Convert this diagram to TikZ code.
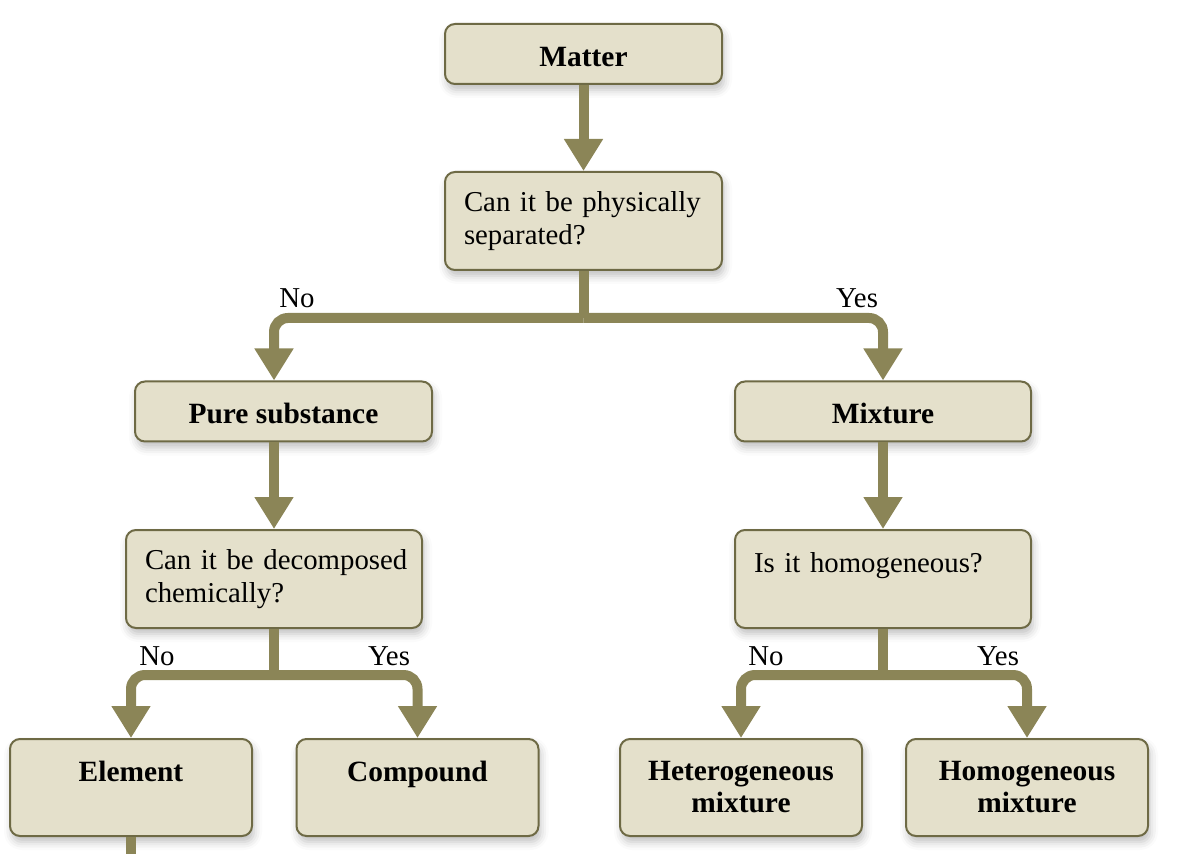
\documentclass[tikz,border=0pt]{standalone}
\usepackage{fontspec}
\setmainfont{Liberation Serif}
\usetikzlibrary{arrows.meta,shadows.blur}

\definecolor{boxfill}{HTML}{E4E0CB}
\definecolor{boxline}{HTML}{6E6A45}
\definecolor{flowcol}{HTML}{8B8557}

\tikzset{
  box/.style={draw=boxline, line width=1pt, fill=boxfill, rounded corners=5pt,
    inner xsep=9.5pt, inner ysep=0pt,
    blur shadow={shadow xshift=1pt, shadow yshift=-3pt, shadow blur radius=4pt, shadow opacity=25}},
  boldtext/.style={align=center, font=\fontsize{14.7}{16}\selectfont\bfseries},
  titlebox/.style={box, boldtext, minimum height=30pt, text height=12.5pt, text depth=0pt},
  askbox/.style={box, align=left, minimum height=49pt, font=\fontsize{14.4}{16.5}\selectfont},
  leafbox/.style={box, boldtext, minimum width=121pt, minimum height=48.5pt},
  answer/.style={font=\fontsize{14.4}{16.5}\selectfont, inner sep=0pt},
  stem/.style={draw=flowcol, line width=5pt},
  flow/.style={stem, rounded corners=7pt, -{Triangle[width=18.5pt,length=16pt]}}
}

\begin{document}
\begin{tikzpicture}[x=0.5pt, y=-0.5pt]
  \useasboundingbox (0,0) rectangle (1186,854);

  \node[titlebox, minimum width=138.5pt] at (583.5, 54) (matter) {Matter};
  \node[askbox, text width=119.5pt] at (583.5, 221) (phys) {\mbox{Can it be physically}\\\mbox{separated?}};

  \node[titlebox, minimum width=148.5pt] at (283.5, 411.5) (pure) {Pure substance};
  \node[titlebox, minimum width=148pt] at (883, 411.5) (mix) {Mixture};

  \node[askbox, text width=129pt] at (274, 579) (decomp) {\mbox{Can it be decomposed}\\\mbox{chemically?}};
  \node[askbox, text width=129pt] at (883, 579) (homq) {\mbox{Is it homogeneous?}\\~};

  \node[leafbox] at (131, 787.5) (elem) {Element\\~};
  \node[leafbox] at (417.5, 787.5) (comp) {Compound\\~};
  \node[leafbox] at (741, 787.5) (het) {Heterogeneous\\mixture};
  \node[leafbox] at (1027, 787.5) (hom) {Homogeneous\\mixture};

  \coordinate (split1) at (583.5, 318);
  \coordinate (split2) at (274, 675);
  \coordinate (split3) at (883, 675);
  \coordinate (stub) at (131, 854);

  \node[answer] at (297, 298) (no1) {No};
  \node[answer] at (857, 298) (yes1) {Yes};
  \node[answer] at (157, 656) (no2) {No};
  \node[answer] at (389, 656) (yes2) {Yes};
  \node[answer] at (766, 656) (no3) {No};
  \node[answer] at (998, 656) (yes3) {Yes};

  \draw[flow] (matter) -- (phys);
  \draw[stem] (phys.south) -- (split1);
  \draw[flow] (split1) -| (decomp.north |- pure.north);
  \draw[flow] (split1) -| (mix.north);

  \draw[flow] (decomp.north |- pure.south) -- (decomp.north);
  \draw[flow] (mix.south) -- (homq.north);

  \draw[stem] (decomp.south) -- (split2);
  \draw[flow] (split2) -| (elem.north);
  \draw[flow] (split2) -| (comp.north);

  \draw[stem] (homq.south) -- (split3);
  \draw[flow] (split3) -| (het.north);
  \draw[flow] (split3) -| (hom.north);

  \draw[stem] (elem.south) -- (stub);
\end{tikzpicture}
\end{document}
